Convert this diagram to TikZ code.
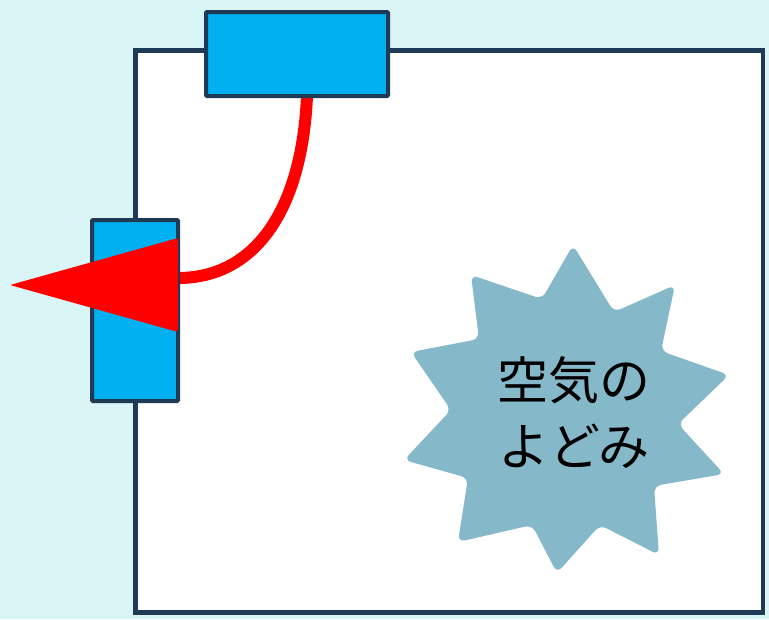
\documentclass[tikz,border=0pt]{standalone}
\usepackage{fontspec}
\newfontfamily\cjk{Noto Sans CJK JP}
\definecolor{bgcol}{HTML}{D9F5F5}
\definecolor{navy}{HTML}{1F3A55}
\definecolor{ventblue}{HTML}{00B0F0}
\definecolor{starcol}{HTML}{85B9C9}
\begin{document}
\begin{tikzpicture}[x=1pt,y=-1pt,
  wall/.style={draw=navy, line width=4.5pt, fill=white},
  vent/.style={draw=navy, fill=ventblue, line width=4pt, rounded corners=1pt, inner sep=0pt},
  flow/.style={draw=red, line width=12pt},
  arrowhead/.style={fill=red, rounded corners=2pt},
  stagnant/.style={fill=starcol, rounded corners=7pt},
  label/.style={font=\cjk\fontsize{51}{66}\selectfont, align=center, text=black}
]
\fill[bgcol] (0,0) rectangle (769,619);
\useasboundingbox (0,0) rectangle (769,619);
% room
\draw[wall] (135.5,50.5) rectangle (763,612.5);
% stagnant air
\fill[stagnant] (573,245) -- (614,312) -- (675,285) -- (661,351) -- (729,375) -- (678,424) -- (724,474) -- (654,486) -- (659,555) -- (600,525) -- (557,573) -- (532,525) -- (458,542) -- (468,478) -- (404,460) -- (451,410) -- (411,352) -- (479,339) -- (471,275) -- (542,299) -- cycle;
\node[label] (txt) at (574,413) {空気の\\よどみ};
% airflow
\coordinate (a) at (307,96);
\coordinate (b) at (178,278);
\draw[flow] (a) .. controls (302,210) and (255,278) .. (b);
% vents
\node[vent, minimum width=182pt, minimum height=84pt] (topvent) at (297,54) {};
\node[vent, minimum width=86pt, minimum height=181pt] (leftvent) at (135,310.5) {};
% arrow head
\coordinate (tip) at (10,285);
\fill[arrowhead] (178,238) -- (tip) -- (178,332) -- cycle;
\end{tikzpicture}
\end{document}
